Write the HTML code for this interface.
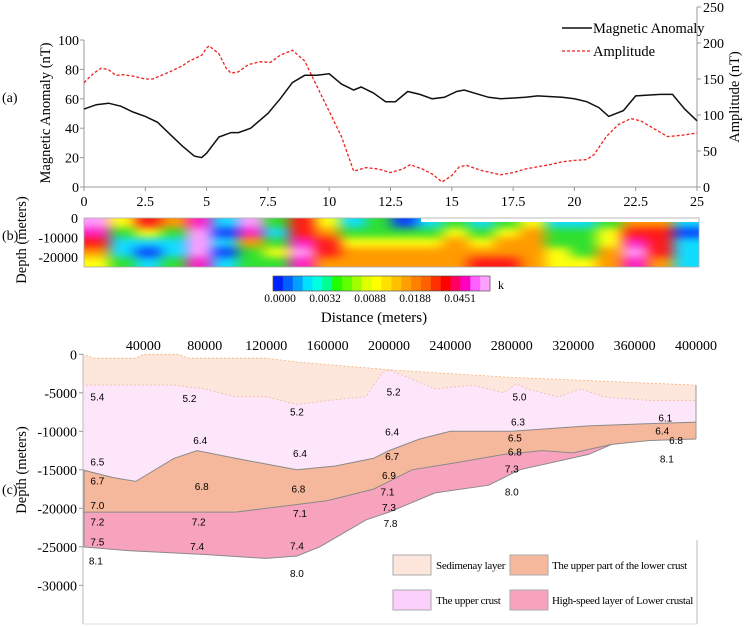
<!DOCTYPE html>
<html><head><meta charset="utf-8"><style>
html,body{margin:0;padding:0;background:#fff;}
svg{display:block;font-family:"Liberation Serif",serif;}
</style></head><body>
<svg id="fig" width="744" height="627" viewBox="0 0 744 627" xmlns="http://www.w3.org/2000/svg">
<g id="pa"></g>
<g id="pb"></g>
<g id="pc"></g>
</svg>
<script>
// ---------- Panel (a) data ----------
const magX = [0,0.5,1,1.5,2,2.5,3,3.5,4,4.5,4.8,5,5.5,6,6.3,6.8,7.5,8,8.5,9,9.5,10,10.5,11,11.3,11.8,12.3,12.7,13.2,13.7,14.2,14.7,15.2,15.5,16.5,17,18,18.5,19.5,20,20.5,21,21.4,22,22.5,23.5,24,24.5,25];
const magY = [53,56,57,55,51,48,44,36,28,21,20,23,34,37,37,40,50,60,71,76,76,77,70,66,68,64,58,58,65,63,60,61,65,66,61,60,61,62,61,60,58,54,48,52,62,63,63,53,45];
const ampX = [0,0.4,0.7,1,1.3,1.6,2,2.5,2.8,3.5,4,4.3,4.8,5,5.1,5.5,5.8,6,6.3,6.7,7.2,7.6,8,8.5,9,9.5,10,10.5,11,11.5,12,12.5,13,13.3,13.8,14.2,14.6,15,15.3,15.6,16.2,17,17.5,18,18.5,19,19.5,20,20.5,20.8,21.3,21.8,22.3,22.7,23.3,23.8,24.4,25];
const ampY = [145,158,165,163,155,156,154,150,150,160,168,175,183,193,196,185,165,158,160,170,174,173,183,190,175,140,105,70,22,27,25,20,25,31,25,18,7,16,28,30,23,17,20,25,28,31,35,37,38,45,70,87,95,92,80,70,72,75];
const xTicksA = [0,2.5,5,7.5,10,12.5,15,17.5,20,22.5,25];
const xTickLabelsA = ["0","2.5","5","7.5","10","12.5","15","17.5","20","22.5","25"];
const yTicksL = [0,20,40,60,80,100];
const yTicksR = [0,50,100,150,200,250];

// ---------- Panel (b) data (colour index 0..7 per cell, rows top->bottom) ----------
const heatCols = [
[7,6,5,4,3],[3,2,1,1,2],[5,3,1,0,1],[4,2,1,1,2],[6,7,7,7,6],[1,0,1,0,1],
[7,6,4,2,2],[2,1,2,3,2],[5,5,6,7,6],[3,4,5,5,4],[1,2,3,4,4],[2,2,3,4,4],
[0,2,3,4,4],[1,2,3,4,4],[2,3,4,4,4],[1,2,3,4,5],[2,3,4,4,5],[3,4,4,4,4],
[1,2,2,3,3],[1,2,2,2,3],[2,3,3,4,4],[4,5,6,7,6],[4,5,5,5,4],[1,0,1,1,1]];
const palette = ["#0a3cff","#10dcff","#30e030","#ffff10","#ff9a00","#ff1818","#ff20c8","#ff9cff"];
const cbColors = ["#0020ff","#0060ff","#00a0ff","#00e0ff","#00ffe0","#00ff90","#20ff00","#60ff00","#a0ff00","#e0ff00","#ffff00","#ffe000","#ffc000","#ffa000","#ff8000","#ff6000","#ff3000","#ff0000","#ff0060","#ff00c0","#ff60ff","#ffa0ff"];
const cbLabels = ["0.0000","0.0032","0.0088","0.0188","0.0451"];
const depthTicksB = [0,-10000,-20000];

// ---------- Panel (c) data ----------
const xTicksC = [40000,80000,120000,160000,200000,240000,280000,320000,360000,400000];
const yTicksC = [0,-5000,-10000,-15000,-20000,-25000,-30000];
const sedTop = [[0,0],[8000,-500],[35000,-500],[40000,0],[62000,0],[70000,-500],[120000,-500],[140000,-1000],[200000,-2000],[280000,-3000],[400000,-4000]];
const sedBot = [[0,-4000],[60000,-4000],[80000,-4500],[100000,-5500],[120000,-5500],[140000,-6500],[160000,-6000],[185000,-5500],[195000,-2500],[200000,-2000],[210000,-2800],[230000,-4500],[255000,-4000],[275000,-5000],[283000,-3800],[290000,-4500],[310000,-5500],[325000,-4500],[340000,-5500],[370000,-6000],[400000,-6000]];
const ucBot = [[0,-15000],[20000,-16000],[35000,-16500],[60000,-13500],[75000,-12500],[100000,-13500],[140000,-15000],[165000,-14500],[190000,-13500],[200000,-12500],[220000,-11000],[240000,-10000],[260000,-10000],[280000,-10000],[330000,-9300],[370000,-9000],[400000,-8800]];
const lcBot = [[0,-20500],[70000,-20500],[100000,-20500],[140000,-19500],[160000,-19000],[190000,-17500],[200000,-16500],[215000,-15000],[240000,-14200],[275000,-13000],[300000,-12500],[320000,-12800],[345000,-11700],[370000,-11200],[400000,-11000]];
const hsBot = [[0,-25000],[30000,-25500],[80000,-26000],[120000,-26500],[140000,-26200],[155000,-25000],[185000,-21500],[200000,-20500],[230000,-18000],[265000,-17000],[285000,-15000],[330000,-13000],[345000,-11700]];
const velLabels = ["5.4","5.2","5.2","5.2","5.0","6.3","6.1","6.4","6.4","6.4","6.5","6.4","6.8","6.5","6.7","6.8","8.1","6.7","6.8","6.8","6.9","7.3","7.1","8.0","7.0","7.1","7.3","7.2","7.2","7.8","7.5","7.4","7.4","8.1","8.0"];
const velX = [10000,70000,140000,203000,285000,284000,380000,77000,202000,142000,282000,378000,387000,10000,202000,282000,381000,10000,78000,141000,200000,280000,199000,280000,10000,142000,200000,10000,76000,201000,10000,75000,140000,9000,140000];
const velY = [-5500,-5700,-7400,-4800,-5500,-8700,-8200,-11100,-10000,-12800,-10800,-9900,-11100,-13900,-13200,-12600,-13500,-16400,-17100,-17400,-15700,-14800,-17800,-17800,-19600,-20600,-19800,-21700,-21700,-21900,-24300,-24900,-24800,-26800,-28400];

const NS="http://www.w3.org/2000/svg";
function mk(parent,tag,attrs,text){const e=document.createElementNS(NS,tag);for(const k in attrs)e.setAttribute(k,attrs[k]);if(text!==undefined)e.textContent=text;parent.appendChild(e);return e;}

// ===== Panel A =====
(function(){
const g=document.getElementById('pa');
const X0=84,X1=697, Y0=187, YL100=40, YR250=7;
const sx=v=>X0+(X1-X0)*v/25;
const syL=v=>Y0-(Y0-YL100)*v/100;
const syR=v=>Y0-(Y0-YR250)*v/250;
let e;
e=mk(g,'line',{x1:X0,y1:YL100,x2:X0,y2:Y0,stroke:'#999'});


e=mk(g,'line',{x1:X0,y1:Y0,x2:X1,y2:Y0,stroke:'#999'});


e=mk(g,'line',{x1:X1,y1:YR250,x2:X1,y2:Y0,stroke:'#999'});


xTicksA.forEach((t,i)=>{
  mk(g,'line',{x1:sx(t),y1:Y0,x2:sx(t),y2:Y0+4,stroke:'#999'});
  e=mk(g,'text',{x:sx(t),y:Y0+19,'text-anchor':'middle','font-size':14},xTickLabelsA[i]);
  
  
});
yTicksL.forEach(t=>{
  mk(g,'line',{x1:X0-4,y1:syL(t),x2:X0,y2:syL(t),stroke:'#999'});
  e=mk(g,'text',{x:X0-5,y:syL(t)+5,'text-anchor':'end','font-size':14},String(t));
  
  
});
yTicksR.forEach(t=>{
  mk(g,'line',{x1:X1,y1:syR(t),x2:X1+4,y2:syR(t),stroke:'#999'});
  e=mk(g,'text',{x:X1+6,y:syR(t)+5,'font-size':14},String(t));
  
  
});
e=mk(g,'path',{d:magX.map((x,i)=>(i?'L':'M')+sx(x).toFixed(1)+','+syL(magY[i]).toFixed(1)).join(''),fill:'none',stroke:'#111','stroke-width':1.5});


e=mk(g,'path',{d:ampX.map((x,i)=>(i?'L':'M')+sx(x).toFixed(1)+','+syR(ampY[i]).toFixed(1)).join(''),fill:'none',stroke:'#f02020','stroke-width':1.3,'stroke-dasharray':'3,2'});


e=mk(g,'line',{x1:562,y1:28,x2:592,y2:28,stroke:'#111','stroke-width':1.5});


e=mk(g,'text',{x:593,y:33,'font-size':14.5},'Magnetic Anomaly');


e=mk(g,'line',{x1:562,y1:51,x2:592,y2:51,stroke:'#f02020','stroke-width':1.3,'stroke-dasharray':'3,2'});


e=mk(g,'text',{x:593,y:56,'font-size':14.5},'Amplitude');


e=mk(g,'text',{x:0,y:0,'font-size':14.5,'text-anchor':'middle',transform:'translate(50,113) rotate(-90)'},'Magnetic Anomaly (nT)');


e=mk(g,'text',{x:0,y:0,'font-size':14.5,'text-anchor':'middle',transform:'translate(739,97) rotate(-90)'},'Amplitude (nT)');


e=mk(g,'text',{x:2,y:102,'font-size':14},'(a)');


})();

// ===== Panel B =====
(function(){
const g=document.getElementById('pb');
const X0=84,X1=699,Y0=218,Y1=267;
let e;
const defs=mk(g,'defs',{});
const f=mk(defs,'filter',{id:'blur',filterUnits:'userSpaceOnUse',x:X0-20,y:Y0-20,width:X1-X0+40,height:Y1-Y0+40,'color-interpolation-filters':'sRGB'});
mk(f,'feGaussianBlur',{stdDeviation:'7 4'});
const cp=mk(defs,'clipPath',{id:'hclip'});
mk(cp,'rect',{x:X0,y:Y0,width:X1-X0,height:Y1-Y0});
const hg=mk(g,'g',{'clip-path':'url(#hclip)'});
const inner=mk(hg,'g',{filter:'url(#blur)'});
const cw=(X1-X0)/heatCols.length;
heatCols.forEach((col,i)=>{
  const ch=(Y1-Y0)/col.length;
  col.forEach((v,j)=>{
    // extend edge cells outward so blur does not fade at borders
    const x=X0+i*cw-(i===0?15:0), w=cw+0.5+(i===0?15:0)+(i===heatCols.length-1?15:0);
    const y=Y0+j*ch-(j===0?15:0), h=ch+0.5+(j===0?15:0)+(j===col.length-1?15:0);
    e=mk(inner,'rect',{x:x,y:y,width:w,height:h,fill:palette[v]});
    
    
  });
});
mk(g,'rect',{x:421,y:217,width:278,height:5,fill:'#fff'});
e=mk(g,'rect',{x:X0,y:Y0,width:X1-X0,height:Y1-Y0,fill:'none',stroke:'#aaa','stroke-width':0.8});


const sy=d=>Y0+(257-Y0)*d/-20000;
depthTicksB.forEach(t=>{
  e=mk(g,'text',{x:78,y:sy(t)+5,'text-anchor':'end','font-size':14},String(t));
  
  
});
e=mk(g,'text',{x:0,y:0,'font-size':14.5,'text-anchor':'middle',transform:'translate(26,240) rotate(-90)'},'Depth (meters)');


e=mk(g,'text',{x:2,y:240,'font-size':14},'(b)');


const cx0=273,cx1=490,cy=276,ch=15;
const sw=(cx1-cx0)/cbColors.length;
cbColors.forEach((c,i)=>{
  e=mk(g,'rect',{x:cx0+i*sw,y:cy,width:sw+0.4,height:ch,fill:c});
  
  
});
mk(g,'rect',{x:cx0,y:cy,width:cx1-cx0,height:ch,fill:'none',stroke:'#555','stroke-width':0.7});
cbLabels.forEach((l,i)=>{
  e=mk(g,'text',{x:280+i*(460-280)/4,y:302,'text-anchor':'middle','font-size':11.5},l);
  
  
});
e=mk(g,'text',{x:498,y:289,'font-size':12},'k');


e=mk(g,'text',{x:374,y:322,'text-anchor':'middle','font-size':15},'Distance (meters)');


})();

// ===== Panel C =====
(function(){
const g=document.getElementById('pc');
const sx=v=>82+61.4*v/40000;
const sy=d=>354.3-7.7*d/1000;
const pts=a=>a.map(p=>sx(p[0]).toFixed(1)+','+sy(p[1]).toFixed(1));
const poly=(top,bot)=>'M'+pts(top).join('L')+'L'+pts(bot.slice().reverse()).join('L')+'Z';
let e;
const defs=mk(g,'defs',{});
const cp=mk(defs,'clipPath',{id:'cclip'});
mk(cp,'rect',{x:83,y:340,width:614,height:287});
const lg=mk(g,'g',{'clip-path':'url(#cclip)'});
e=mk(lg,'path',{d:poly(sedTop,sedBot),fill:'#fde7dd',stroke:'none'});


e=mk(lg,'path',{d:poly(sedBot,ucBot),fill:'#fde6fa',stroke:'none'});


e=mk(lg,'path',{d:poly(ucBot,lcBot),fill:'#f6b89c',stroke:'none'});


e=mk(lg,'path',{d:poly(lcBot.slice(0,13),hsBot),fill:'#f7a3bd',stroke:'none'});


mk(lg,'path',{d:'M'+pts(sedTop).join('L'),fill:'none',stroke:'#f5b070','stroke-width':0.8,'stroke-dasharray':'2,2'});
mk(lg,'path',{d:'M'+pts(sedBot).join('L'),fill:'none',stroke:'#f0b8a0','stroke-width':0.8,'stroke-dasharray':'2,2'});
[ucBot,lcBot,hsBot].forEach(a=>mk(lg,'path',{d:'M'+pts(a).join('L'),fill:'none',stroke:'#8a8a8a','stroke-width':1}));
mk(lg,'line',{x1:sx(400000),y1:sy(-4000),x2:sx(400000),y2:sy(-11000),stroke:'#999','stroke-width':1});
mk(lg,'line',{x1:84,y1:sy(-15000),x2:84,y2:sy(-25000),stroke:'#888','stroke-width':1});
e=mk(g,'line',{x1:83,y1:354,x2:83,y2:624,stroke:'#bbb'});


e=mk(g,'line',{x1:83,y1:624,x2:697,y2:624,stroke:'#ddd'});


mk(g,'line',{x1:697,y1:540,x2:697,y2:624,stroke:'#bbb'});
xTicksC.forEach(t=>{
  e=mk(g,'text',{x:sx(t),y:350,'text-anchor':'middle','font-size':14},String(t));
  
  
});
yTicksC.forEach(t=>{
  mk(g,'line',{x1:79,y1:sy(t),x2:83,y2:sy(t),stroke:'#999'});
  e=mk(g,'text',{x:77,y:sy(t)+5,'text-anchor':'end','font-size':14},String(t));
  
  
});
e=mk(g,'text',{x:0,y:0,'font-size':14.5,'text-anchor':'middle',transform:'translate(26,470) rotate(-90)'},'Depth (meters)');


e=mk(g,'text',{x:2,y:494,'font-size':14},'(c)');


velLabels.forEach((l,i)=>{
  e=mk(g,'text',{x:sx(velX[i]),y:sy(velY[i])+4,'text-anchor':'middle','font-size':10,'font-family':'Liberation Sans, sans-serif'},l);
  
  
});
const items=[["Sedimenay layer","#fde7dd",393,555,436],["The upper part of the lower crust","#f6b89c",510,555,552],["The upper crust","#fcd0fc",393,590,436],["High-speed layer of Lower crustal","#f7a3bd",510,590,552]];
items.forEach(it=>{
  e=mk(g,'rect',{x:it[2],y:it[3],width:38,height:20,fill:it[1],stroke:'#aaa','stroke-width':1});
  
  
  e=mk(g,'text',{x:it[4],y:it[3]+14,'font-size':11,'letter-spacing':'-0.3'},it[0]);
  
  
});
})();
</script>
</body></html>
